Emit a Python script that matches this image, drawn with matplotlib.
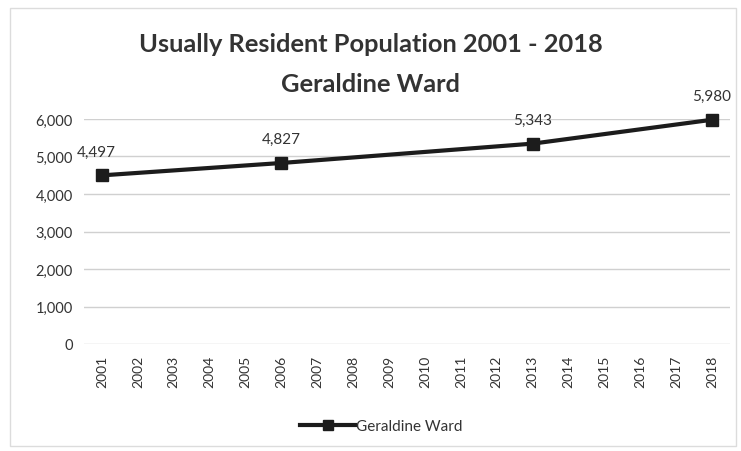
import matplotlib.pyplot as plt
from matplotlib.patches import Rectangle

# Census years with values; the axis shows every year
years = list(range(2001, 2019))
census_years = [2001, 2006, 2013, 2018]
population = [4497, 4827, 5343, 5980]
y_ticks = [0, 1000, 2000, 3000, 4000, 5000, 6000]

plt.rcParams['font.family'] = ['Lato', 'DejaVu Sans']

fig = plt.figure(figsize=(7.41, 4.52), dpi=100)
ax = fig.add_axes([84 / 741, 1 - 345 / 452, (730 - 84) / 741, (345 - 120) / 452])

# chart border like the spreadsheet frame
fig.patches.append(Rectangle((10 / 741, 0.01), 0.98, 0.97, transform=fig.transFigure,
                             fill=False, edgecolor='#dcdcdc', lw=1))

ax.plot(census_years, population, color='#1c1c1c', lw=3, marker='s', markersize=9,
        label='Geraldine Ward', clip_on=False, zorder=3)

for yr, val in zip(census_years, population):
    ax.annotate(f'{val:,}', (yr, val), textcoords='offset points', xytext=(-4 if yr == 2001 else 0, 12),
                ha='center', va='bottom', fontsize=11, color='#333333')

ax.set_xlim(years[0] - 0.5, years[-1] + 0.5)
ax.set_ylim(0, 6000)
ax.set_xticks(years)
ax.set_xticklabels([str(y) for y in years], rotation=90, fontsize=10, color='#333333')
ax.set_yticks(y_ticks)
ax.set_yticklabels([f'{v:,}' for v in y_ticks], fontsize=10.5, color='#333333')
ax.tick_params(length=0, pad=8)
ax.grid(axis='y', color='#d0d0d0', lw=1)
ax.set_axisbelow(True)
for s in ax.spines.values():
    s.set_visible(False)

fig.text(0.5, 1 - 45 / 452, 'Usually Resident Population 2001 - 2018', ha='center', va='center',
         fontsize=18.3, fontweight='bold', color='#333333')
fig.text(0.5, 1 - 84 / 452, 'Geraldine Ward', ha='center', va='center',
         fontsize=18.3, fontweight='bold', color='#333333')

fig.legend(loc='center', bbox_to_anchor=(0.515, 1 - 427 / 452), frameon=False, fontsize=11,
           handlelength=3.6, handletextpad=0.05, markerscale=0.85, labelcolor='#333333')

fig.savefig('out.png', dpi=100)
